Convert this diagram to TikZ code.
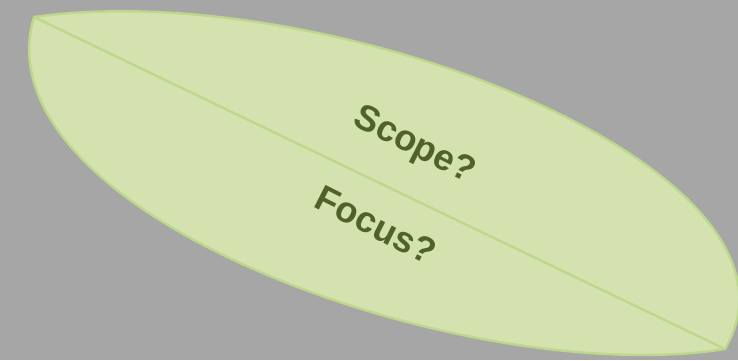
\documentclass[tikz,border=0pt]{standalone}
\usepackage{fontspec}
\setmainfont{Liberation Sans}
\usetikzlibrary{positioning}
\definecolor{bggray}{HTML}{A6A6A6}
\definecolor{leaffill}{HTML}{D4E2B0}
\definecolor{leafedge}{HTML}{BDD78B}
\definecolor{leaftext}{HTML}{4F6228}

\begin{document}
\begin{tikzpicture}[x=0.03cm,y=-0.03cm,
    every node/.style={font=\bfseries\fontsize{31}{36}\selectfont,text=leaftext,rotate=-27}]
      \fill[bggray] (0,0) rectangle (738,360);
      \useasboundingbox (0,0) rectangle (738,360);
      \coordinate (tipa) at (34,17);
      \coordinate (tipb) at (725,349);
      \filldraw[fill=leaffill,draw=leafedge,line width=2pt]
        (tipa) .. controls (330,-25) and (830,170) .. (tipb)
               .. controls (470,390) and (-25,215) .. (tipa) -- cycle;
      \draw[leafedge,line width=2pt] (tipa) -- (tipb);
      \node (scope) at (414,146) {Scope?};
      \node (focus) at (376,225) {Focus?};
    \end{tikzpicture}
\end{document}
